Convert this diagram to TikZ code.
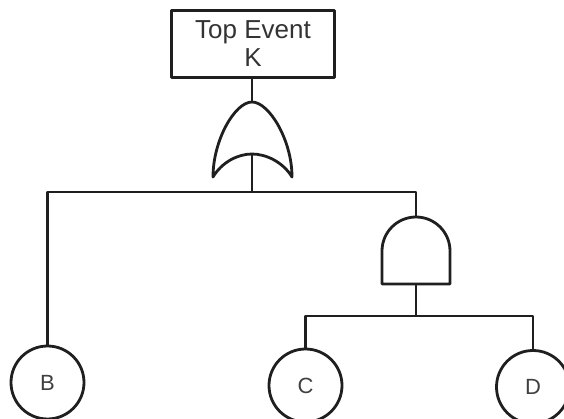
\documentclass[tikz,border=0pt]{standalone}
\usepackage{fontspec}
\setmainfont{Liberation Sans}
\begin{document}
\begin{tikzpicture}[x=1pt,y=-1pt,
  ln/.style={line width=2.8pt, draw=black!88, line join=round},
  event/.style={ln, draw, circle, inner sep=0pt, minimum size=73pt, font=\fontsize{22}{24}\selectfont, text=black!75},
  topbox/.style={ln, draw, rectangle, inner sep=0pt, minimum width=163pt, minimum height=67pt, align=center, font=\fontsize{26}{28}\selectfont, text=black!80}]
\useasboundingbox (0,0) rectangle (564,419);
\node[topbox] (top) at (253,44) {Top Event\\K};
% OR gate
\coordinate (ortop) at (252,102);
\coordinate (orin) at (252,154);
\draw[ln] (213,177) .. controls (213,140) and (235,102) .. (ortop)
  .. controls (269,102) and (292,140) .. (292,177)
  .. controls (283,162) and (266,154) .. (orin)
  .. controls (238,154) and (222,162) .. (213,177) -- cycle;
% AND gate
\coordinate (andtop) at (416,217);
\coordinate (andbot) at (416,284);
\draw[ln] (382,284) -- (382,251) arc[start angle=180, end angle=0, x radius=34, y radius=-34] -- (450,284) -- cycle;
% events
\node[event] (B) at (47.5,382.5) {B};
\node[event] (C) at (305.5,385.5) {C};
\node[event] (D) at (533,387) {D};
% junctions
\coordinate (bar1) at (252,192);
\coordinate (bar2) at (416,316);
% connectors
\draw[ln] (top.south -| ortop) -- (ortop);
\draw[ln] (orin) -- (bar1);
\draw[ln] (B.north) |- (bar1) -| (andtop);
\draw[ln] (andbot) -- (bar2);
\draw[ln] (C.north) |- (bar2) -| (D.north);
\end{tikzpicture}
\end{document}
